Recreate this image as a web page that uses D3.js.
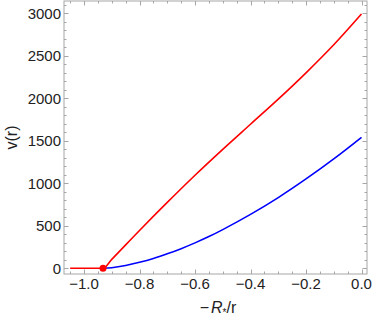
<!DOCTYPE html>
<html><head><meta charset="utf-8">
<script src="https://cdn.jsdelivr.net/npm/d3@7"></script>
<style>body{margin:0;background:#fff}svg{display:block}text{font-family:"Liberation Sans",Arial,sans-serif}</style>
</head><body><svg id="c" width="374" height="322"></svg>
<script>
const redX   = [-1.05, -0.9315, -0.9, -0.8, -0.7, -0.6, -0.5, -0.4, -0.3, -0.2, -0.1, 0.0];
const redV   = [0, 0, 105, 445, 775, 1095, 1400, 1695, 1990, 2300, 2630, 2992];
const blueX  = [-0.9315, -0.9, -0.85, -0.8, -0.75, -0.7, -0.65, -0.6, -0.55, -0.5, -0.4, -0.3, -0.2, -0.1, 0.0];
const blueV  = [0, 7, 33, 70, 115, 170, 231, 299, 373, 455, 634, 832, 1051, 1287, 1541];
const pointX = [-0.9315];
const pointV = [0];
const xTicks = [-1.0, -0.8, -0.6, -0.4, -0.2, 0.0];
const yTicks = [0, 500, 1000, 1500, 2000, 2500, 3000];

const svg = d3.select("#c");
const L = 64, R = 367, T = 1, B = 274;
const x = d3.scaleLinear().domain([-1.0721, 0.0198]).range([L, R]);
const y = d3.scaleLinear().domain([-67.3, 3145]).range([B, T]);
const frameCol = "#a6a6a6";
const fmtX = d => (d < 0 ? "\u2212" : "") + Math.abs(d).toFixed(1);

svg.append("rect").attr("x", L).attr("y", T).attr("width", R - L).attr("height", B - T)
  .attr("fill", "none").attr("stroke", frameCol).attr("stroke-width", 1);

const xMinor = d3.range(-1.05, 0.0001, 0.05).map(v => +v.toFixed(2)).filter(v => !xTicks.some(t => Math.abs(t - v) < 1e-6));
const yMinor = d3.range(0, 3101, 100).filter(v => v % 500 !== 0);
const g = svg.append("g").attr("stroke", frameCol).attr("stroke-width", 1);
function xt(vals, len) {
  vals.forEach(v => {
    const px = Math.round(x(v)) + 0.5;
    g.append("line").attr("x1", px).attr("x2", px).attr("y1", B).attr("y2", B - len);
    g.append("line").attr("x1", px).attr("x2", px).attr("y1", T).attr("y2", T + len);
  });
}
function yt(vals, len) {
  vals.forEach(v => {
    const py = Math.round(y(v)) + 0.5;
    g.append("line").attr("x1", L).attr("x2", L + len).attr("y1", py).attr("y2", py);
    g.append("line").attr("x1", R).attr("x2", R - len).attr("y1", py).attr("y2", py);
  });
}
xt(xTicks, 4.5); xt(xMinor, 2.5); yt(yTicks, 4.5); yt(yMinor, 2.5);

svg.append("g").selectAll("text").data(yTicks).join("text")
  .attr("x", L - 3).attr("y", d => y(d) + 5.3).attr("text-anchor", "end")
  .attr("font-size", 15).attr("fill", "#222").text(d => d);
svg.append("g").selectAll("text").data(xTicks).join("text")
  .attr("x", d => x(d)).attr("y", B + 15).attr("text-anchor", "middle")
  .attr("font-size", 15).attr("fill", "#222").text(fmtX);

svg.append("text").attr("transform", `translate(17,${(T + B) / 2}) rotate(-90)`)
  .attr("text-anchor", "middle").attr("font-size", 16).attr("fill", "#222").text("v(r)");
const xt2 = svg.append("text").attr("x", 218).attr("y", 313).attr("text-anchor", "middle")
  .attr("font-size", 16).attr("fill", "#222");
xt2.append("tspan").text("\u2212");
xt2.append("tspan").attr("dx", 2).attr("font-style", "italic").text("R");
xt2.append("tspan").attr("font-size", 10).attr("dy", 3).text("*");
xt2.append("tspan").attr("dy", -3).text("/r");

const line = d3.line().x(d => x(d[0])).y(d => y(d[1])).curve(d3.curveCatmullRom);
svg.append("path").datum(blueX.map((v, i) => [v, blueV[i]]))
  .attr("d", line).attr("fill", "none").attr("stroke", "#0000ff").attr("stroke-width", 1.6);
svg.append("path").datum(redX.map((v, i) => [v, redV[i]]))
  .attr("d", d3.line().x(d => x(d[0])).y(d => y(d[1])).curve(d3.curveMonotoneX)).attr("fill", "none").attr("stroke", "#ff0000").attr("stroke-width", 1.6);
svg.selectAll("circle.pt").data(pointX.map((v, i) => [v, pointV[i]])).join("circle")
  .attr("cx", d => x(d[0])).attr("cy", d => y(d[1])).attr("r", 3.5).attr("fill", "#ff0000");
</script></body></html>
